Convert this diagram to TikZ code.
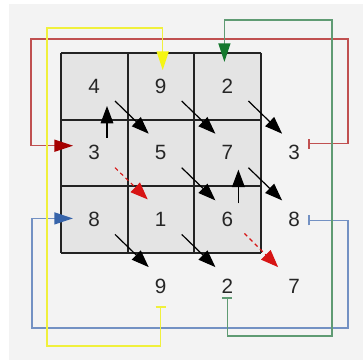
\documentclass[tikz,border=0pt]{standalone}
\usepackage{fontspec}
\setmainfont{Liberation Sans}
\usepackage{xcolor}
\usetikzlibrary{arrows.meta}
\definecolor{panelgray}{RGB}{243,243,243}
\definecolor{cellgray}{RGB}{228,228,228}
\definecolor{gridline}{RGB}{35,35,35}
\definecolor{redline}{RGB}{192,80,80}
\definecolor{redhead}{RGB}{165,0,0}
\definecolor{swapred}{RGB}{215,20,20}
\definecolor{yellowline}{RGB}{240,240,60}
\definecolor{yellowhead}{RGB}{245,245,20}
\definecolor{greenline}{RGB}{95,155,115}
\definecolor{greenhead}{RGB}{20,120,45}
\definecolor{blueline}{RGB}{115,145,195}
\definecolor{bluehead}{RGB}{55,100,170}

\tikzset{
    num/.style={font=\fontsize{15.5pt}{18pt}\selectfont, text=black!85, inner sep=0pt},
    diagarrow/.style={black, line width=0.9pt, -{Triangle[length=13pt,width=9.5pt]}},
    swaparrow/.style={swapred, line width=0.8pt, dash pattern=on 3pt off 2.5pt, -{Triangle[length=13pt,width=10pt]}},
    loopline/.style 2 args={draw=#1, line width=1.1pt, {Bar[width=7.5pt]}-{Triangle[length=14pt,width=9pt,color=#2]}},
}

\begin{document}
\begin{tikzpicture}[x=0.75pt,y=-0.75pt]
        \useasboundingbox (0,0) rectangle (363,360);
        \fill[panelgray] (9,4) rectangle (363,360);
        % square
        \fill[cellgray] (61,53) rectangle (261,253);
        \foreach \k in {0,1,2,3}{
            \draw[gridline,line width=1.5pt] (61+66.67*\k,53) -- (61+66.67*\k,253);
            \draw[gridline,line width=1.5pt] (61,53+66.67*\k) -- (261,53+66.67*\k);
        }
        % numbers (row/col, col 4 and row 4 are outside)
        \foreach \v/\r/\c in {4/1/1, 9/1/2, 2/1/3, 3/2/1, 5/2/2, 7/2/3, 8/3/1, 1/3/2, 6/3/3, 3/2/4, 8/3/4, 9/4/2, 2/4/3, 7/4/4}
            \node[num] (c\r\c) at (27.3+66.7*\c,19.3+66.7*\r) {\v};
        % diagonal moves
        \foreach \a/\b in {c11/c22, c12/c23, c13/c24, c23/c34, c22/c33, c31/c42, c32/c43}
            \draw[diagarrow] ([shift={(21,15)}]\a.center) -- ([shift={(-12,-19)}]\b.center);
        \draw[swaparrow] ([shift={(21,15)}]c21.center) -- ([shift={(-13,-20)}]c32.center);
        \draw[swaparrow] ([shift={(17,14)}]c33.center) -- ([shift={(-16,-19)}]c44.center);
        % upward moves
        \draw[diagarrow] ([shift={(13,-15)}]c21.center) -- ([shift={(13,20)}]c11.center);
        \draw[diagarrow] ([shift={(11,-16)}]c33.center) -- ([shift={(11,17)}]c23.center);
        % wrap-around
        \draw[loopline={redline}{redhead}] ([shift={(14,-9)}]c24.center) -- ++(40,0) |- (31,39) |- ([shift={(-21,-7)}]c21.center);
        \draw[loopline={blueline}{bluehead}] ([shift={(14,1)}]c34.center) -- ++(40,0) |- (32,328) |- ([shift={(-21,-1)}]c31.center);
        \draw[loopline={yellowline}{yellowhead}] ([shift={(0,20)}]c42.center) -- ++(0,40) -| (47,28) -| ([shift={(2,-16)}]c12.center);
        \draw[loopline={greenline}{greenhead}] ([shift={(0,11)}]c43.center) -- ++(0,39) -| (332,20) -| ([shift={(-3,-24)}]c13.center);
    \end{tikzpicture}
\end{document}
